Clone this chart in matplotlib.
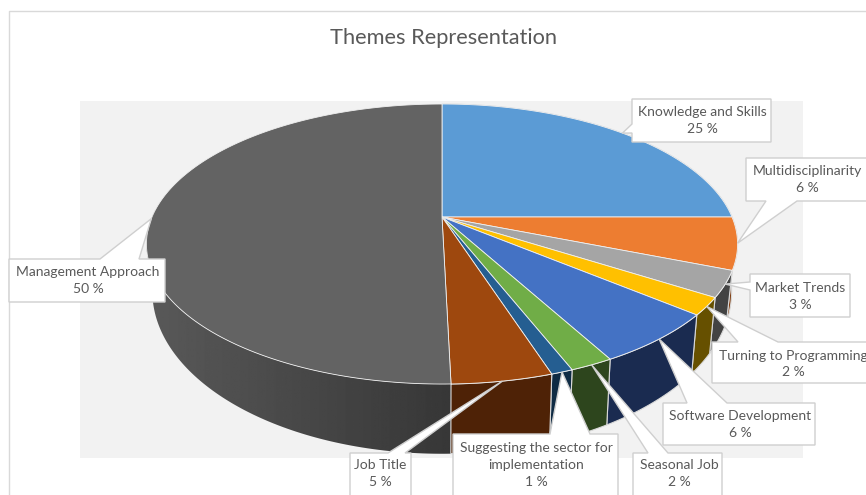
import matplotlib
matplotlib.use("Agg")
import matplotlib.pyplot as plt
import numpy as np
from matplotlib.patches import Polygon, Rectangle

plt.rcParams["font.family"] = ["Lato", "DejaVu Sans"]

categories = ["Knowledge and Skills", "Multidisciplinarity", "Market Trends", "Turning to Programming",
              "Software Development", "Seasonal Job", "Suggesting the sector for\nimplementation",
              "Job Title", "Management Approach"]
values = [25, 6, 3, 2, 6, 2, 1, 4.6, 50.4]  # slice sizes as drawn
shown_pct = [25, 6, 3, 2, 6, 2, 1, 5, 50]  # what the labels print
top_colors = ["#5b9bd5", "#ed7d31", "#a5a5a5", "#ffc000", "#4472c4", "#70ad47", "#255e91", "#9e480e", "#636363"]
side_colors = ["#2e5a85", "#7f3c10", "#434343", "#665000", "#1a2b50", "#2d451d", "#0f2b44", "#4e2206", "#404040"]

# callout layout in pixels: box, side of the tail, tail base, text centre
callouts = [
    ((632, 99, 771, 142), "left", (124, 133), (702, 120.5)),
    ((746, 158, 870, 201), "bottom", (766, 797), (807, 179.5)),
    ((750, 274, 850, 317), "left", (282, 290), (800, 296.5)),
    ((712, 342, 880, 383), "top", (738, 778), (793, 364)),
    ((663, 403, 815, 445), "top", (687, 727), (740, 424.5)),
    ((633, 453, 722, 500), "top", (648, 668), (679, 473.5)),
    ((453, 434, 618, 500), "top", (550, 590), (536, 465)),
    ((350, 453, 411, 500), "top", (388, 405), (380, 473.5)),
    ((9, 259, 165, 302), "top", (100, 139), (88, 280.5)),
]

CX, CY = 442, 217
A, B, PERSP = 134.8, 290, 0.193
DROP, Y_STRETCH, X_SHRINK = 43, 1.16, 0.98


def rim(theta):
    # theta clockwise from 12 o'clock, perspective view of the unit circle
    u, v = np.sin(theta), np.cos(theta)
    den = 1 + PERSP * v
    return B * u / den, -A * v / den


def top_xy(theta):
    x, y = rim(theta)
    return np.column_stack([CX + x, CY + y])


def bottom_xy(theta):
    x, y = rim(theta)
    return np.column_stack([CX + X_SHRINK * x, CY + DROP + Y_STRETCH * y])


def callout_poly(box, side, base, tip):
    x0, y0, x1, y1 = box
    a, b = base
    if side == "top":
        return [(x0, y0), (a, y0), tip, (b, y0), (x1, y0), (x1, y1), (x0, y1)]
    if side == "bottom":
        return [(x0, y0), (x1, y0), (x1, y1), (b, y1), tip, (a, y1), (x0, y1)]
    return [(x0, y0), (x1, y0), (x1, y1), (x0, y1), (x0, b), tip, (x0, a)]


fig = plt.figure(figsize=(8.66, 4.95), dpi=100)
ax = fig.add_axes([0, 0, 1, 1])
ax.set_xlim(0, 866)
ax.set_ylim(495, 0)
ax.axis("off")

# chart frame and plot area
ax.plot([9, 9, 866], [495, 10.5, 10.5], color="#d9d9d9", lw=1)
ax.add_patch(Rectangle((80, 101), 723, 357, fc="#f2f2f2", ec="none"))
ax.text(443, 38, "Themes Representation", ha="center", va="center", fontsize=15.7, color="#595959")

cum = np.concatenate([[0], np.cumsum(values)]) / np.sum(values) * 2 * np.pi
arcs = [np.linspace(cum[i], cum[i + 1], 200) for i in range(len(values))]

# sides: big grey slice first with a gradient, then the rest
big = len(values) - 1
big_poly = np.vstack([top_xy(arcs[big]), bottom_xy(arcs[big])[::-1]])
clip = Polygon(big_poly, fc="none", ec="none", transform=ax.transData)
ax.add_patch(clip)
grad = np.linspace(0.35, 0.215, 256).reshape(1, -1)
im = ax.imshow(grad, extent=(146, 452, 470, 210), cmap="gray", vmin=0, vmax=1, aspect="auto", zorder=2)
im.set_clip_path(clip)
ax.set_xlim(0, 866)
ax.set_ylim(495, 0)

for i in range(len(values) - 1):
    poly = np.vstack([top_xy(arcs[i]), bottom_xy(arcs[i])[::-1]])
    ax.add_patch(Polygon(poly, fc=side_colors[i], ec="#d9d9d9", lw=0.8, zorder=3))

# top face, no outline first so the back rim stays soft
for i in range(len(values)):
    poly = np.vstack([[CX, CY], top_xy(arcs[i])])
    ax.add_patch(Polygon(poly, fc=top_colors[i], ec="#f0f0f0", lw=0.6, zorder=4))

# callouts, tails point at the slice middle on the rim
for i, (box, side, base, centre) in enumerate(callouts):
    tip = tuple(top_xy(np.array([(cum[i] + cum[i + 1]) / 2]))[0])
    ax.add_patch(Polygon(callout_poly(box, side, base, tip), fc="white", ec="#cfcfcf", lw=1, zorder=5))
    ax.text(centre[0], centre[1], f"{categories[i]}\n{shown_pct[i]} %", ha="center", va="center",
            fontsize=10, color="#595959", linespacing=1.5, zorder=6)

fig.savefig("out.png", dpi=100)
